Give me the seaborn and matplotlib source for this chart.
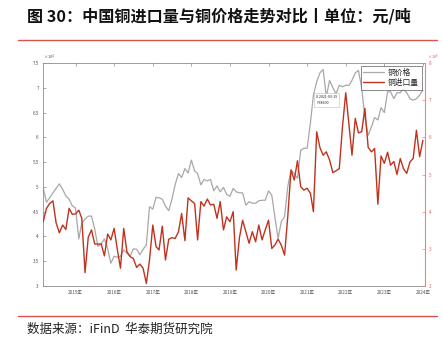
import numpy as np
import pandas as pd
import matplotlib
matplotlib.use("Agg")
import matplotlib.pyplot as plt
from matplotlib.lines import Line2D
import seaborn as sns

# ---------------- data (monthly) ----------------
dates = pd.date_range("2014-02-28", periods=119, freq="ME")

# copper price, unit: x10^4 yuan/ton (left axis)
price = [4.98, 4.69, 4.78, 4.88, 4.97, 5.06, 4.95, 4.82, 4.75, 4.62,
         4.57, 3.95, 4.27, 4.35, 4.41, 4.41, 4.15, 3.80, 3.85, 3.95,
         3.75, 3.46, 3.60, 3.58, 3.60, 3.73, 3.66, 3.60, 3.75, 3.74,
         3.63, 3.74, 3.83, 4.60, 4.55, 4.79, 4.78, 4.75, 4.61, 4.52,
         4.75, 5.05, 5.27, 5.19, 5.37, 5.28, 5.54, 5.32, 5.27, 5.04,
         5.15, 5.12, 5.15, 4.92, 5.02, 4.90, 4.99, 4.85, 4.81, 4.97,
         4.90, 4.88, 4.88, 4.63, 4.70, 4.67, 4.67, 4.72, 4.73, 4.73,
         4.92, 4.83, 4.40, 3.96, 4.30, 4.40, 5.00, 5.34, 5.27, 5.17,
         5.74, 5.78, 5.78, 6.30, 6.85, 7.12, 7.30, 7.37, 6.82, 7.15,
         7.00, 6.88, 7.05, 7.02, 7.05, 7.05, 7.15, 7.30, 7.35, 7.00,
         6.40, 6.04, 6.21, 6.40, 6.35, 6.60, 6.50, 6.92, 6.92, 6.78,
         6.90, 6.90, 6.98, 6.90, 6.78, 6.75, 6.78, 6.85, 6.95]

# copper imports, unit: x10^5 ton (right axis)
imports = [3.73, 4.09, 4.22, 4.29, 3.70, 3.43, 3.64, 3.52, 4.09, 3.93,
           3.94, 4.04, 3.82, 2.36, 3.31, 3.51, 3.13, 3.13, 3.13, 2.81,
           3.40, 3.24, 3.55, 2.97, 2.48, 3.55, 2.92, 2.79, 2.74, 2.50,
           2.59, 2.48, 2.07, 2.70, 3.64, 3.06, 2.97, 3.61, 2.70, 3.26,
           3.30, 3.28, 3.46, 3.95, 3.22, 4.37, 4.29, 4.22, 3.24, 4.27,
           4.15, 4.34, 4.18, 4.20, 3.82, 4.27, 3.51, 3.86, 3.73, 4.00,
           2.43, 3.30, 3.77, 3.46, 3.15, 3.46, 3.19, 3.64, 3.24, 3.51,
           3.77, 3.01, 3.10, 3.26, 3.10, 2.83, 3.86, 5.12, 4.85, 5.37,
           4.67, 4.58, 4.63, 4.49, 4.00, 6.15, 5.73, 5.52, 5.61, 5.39,
           5.05, 5.10, 5.16, 6.28, 7.20, 6.33, 5.52, 6.51, 6.12, 6.15,
           6.78, 5.73, 5.61, 5.70, 4.20, 5.50, 5.30, 5.60, 5.25, 5.35,
           5.00, 5.43, 5.16, 5.03, 5.34, 5.43, 6.19, 5.48, 5.92]

years = [2015, 2016, 2017, 2018, 2019, 2020, 2021, 2022, 2023, 2024]
left_ticks = [3, 3.5, 4, 4.5, 5, 5.5, 6, 6.5, 7, 7.5]
right_ticks = [2, 3, 4, 5, 6, 7, 8]
label_price = "铜价格"
label_imports = "铜进口量"
title = "图 30：中国铜进口量与铜价格走势对比丨单位：元/吨"
source = "数据来源：iFinD  华泰期货研究院"

df = pd.DataFrame({"date": dates, "price": price, "imports": imports})

# ---------------- style ----------------
sns.set_theme(style="white")
plt.rcParams["font.family"] = ["Noto Sans CJK SC", "DejaVu Sans"]

W, H = 445, 349
fig = plt.figure(figsize=(W / 100, H / 100), dpi=100)
fig.patch.set_facecolor("white")

L, R, T, B = 43, 425, 63, 286
ax = fig.add_axes([L / W, 1 - B / H, (R - L) / W, (B - T) / H])
ax2 = ax.twinx()

gray_c = "#A8A8A8"
red_c = "#C0321E"
axis_gray = "#8C8C8C"
axis_red = "#F08080"

sns.lineplot(data=df, x="date", y="price", ax=ax, color=gray_c, lw=0.9,
             label=label_price, legend=False)
sns.lineplot(data=df, x="date", y="imports", ax=ax2, color=red_c, lw=1.0,
             label=label_imports, legend=False)

ax.set_xlim(dates[0] - pd.Timedelta(days=2), dates[-1] + pd.Timedelta(days=20))
ax.set_ylim(left_ticks[0], left_ticks[-1])
ax2.set_ylim(right_ticks[0], right_ticks[-1])

ax.set_xticks([pd.Timestamp(f"{y}-01-01") for y in years])
ax.set_xticklabels([f"{y}年" for y in years])
ax.set_yticks(left_ticks)
ax.set_yticklabels([f"{v:g}" for v in left_ticks])
ax2.set_yticks(right_ticks)
ax2.set_yticklabels([f"{v:g}" for v in right_ticks])

for a in (ax, ax2):
    a.set_xlabel("")
    a.set_ylabel("")
    a.grid(False)

ax.tick_params(axis="x", direction="in", length=2.5, width=0.5, colors=axis_gray,
               labelsize=3.3, labelcolor="#555555", pad=3, top=True)
ax.tick_params(axis="y", direction="in", length=2.5, width=0.5, colors=axis_gray,
               labelsize=3.3, labelcolor="#555555", pad=3)
ax2.tick_params(axis="y", direction="in", length=2.5, width=0.5, colors=axis_red,
                labelsize=3.3, labelcolor="#E06060", pad=3)

for s in ("left", "bottom", "top"):
    ax.spines[s].set_color(axis_gray)
    ax.spines[s].set_linewidth(0.6)
ax.spines["right"].set_visible(False)
for s in ("left", "bottom", "top"):
    ax2.spines[s].set_visible(False)
ax2.spines["right"].set_color(axis_red)
ax2.spines["right"].set_linewidth(0.8)

# exponent labels
ax.text(0.0, 1.005, "×10$^4$", transform=ax.transAxes, fontsize=3.0,
        color="#555555", ha="left", va="bottom")
ax2.text(1.005, 1.005, "×10$^5$", transform=ax2.transAxes, fontsize=3.0,
         color="#E06060", ha="left", va="bottom")

# data tip box
ax.text(0.715, 0.835, "X 2021-03-19\nY 68690", transform=ax.transAxes,
        fontsize=2.6, color="#222222", ha="left", va="center", linespacing=1.5,
        bbox=dict(boxstyle="square,pad=0.6", fc="white", ec="#BBBBBB", lw=0.4))

# legend
h1, l1 = ax.get_legend_handles_labels()
h2, l2 = ax2.get_legend_handles_labels()
leg = ax2.legend(h1 + h2, l1 + l2, loc="upper right", fontsize=5.6,
                 frameon=True, fancybox=False, borderpad=0.35,
                 handlelength=2.6, handletextpad=0.6, labelspacing=0.25,
                 borderaxespad=0.4)
leg.get_frame().set_edgecolor("#333333")
leg.get_frame().set_linewidth(0.5)

# title, rules, source
fig.text(27 / W, 1 - 16 / H, title, fontsize=11.6, fontweight="bold",
         color="#111111", ha="left", va="center")
fig.add_artist(Line2D([18 / W, 437 / W], [1 - 40 / H] * 2, color="#D9534F", lw=1.0))
fig.add_artist(Line2D([18 / W, 437 / W], [1 - 316 / H] * 2, color="#D9534F", lw=1.0))
fig.text(27 / W, 1 - 329 / H, source, fontsize=9.0, color="#222222",
         ha="left", va="center")

fig.savefig("out.png", dpi=100, facecolor="white")
